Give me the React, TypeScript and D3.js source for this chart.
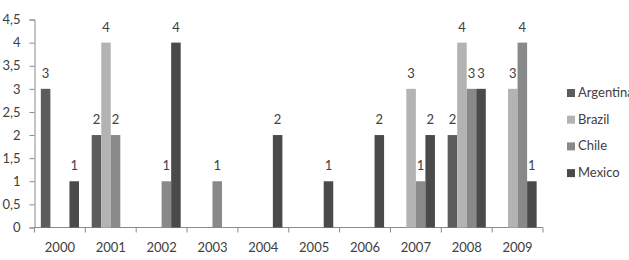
import * as d3 from "d3";
import { useEffect, useRef } from "react";

const years = ["2000", "2001", "2002", "2003", "2004", "2005", "2006", "2007", "2008", "2009"];
const countries = ["Argentina", "Brazil", "Chile", "Mexico"];
const argentina = [3, 2, 0, 0, 0, 0, 0, 0, 2, 0];
const brazil = [0, 4, 0, 0, 0, 0, 0, 3, 4, 3];
const chile = [0, 2, 1, 1, 0, 0, 0, 1, 3, 4];
const mexico = [1, 0, 4, 0, 2, 1, 2, 2, 3, 1];
const yTicks = [0, 0.5, 1, 1.5, 2, 2.5, 3, 3.5, 4, 4.5];
const colors = ["#5c5c5c", "#b3b3b3", "#898989", "#4a4a4a"];

function App() {
    const svgRef = useRef(null);

    useEffect(() => {
        const svg = d3.select(svgRef.current);
        svg.selectAll("*").remove();

        const font = "Lato, 'Open Sans', sans-serif";
        const series = [argentina, brazil, chile, mexico];

        const left = 34.5, right = 543, top = 19.5, bottom = 227.5;

        const xScale = d3.scaleBand().domain(years).range([left, right]).paddingInner(0.25).paddingOuter(0.125);
        const xInner = d3.scaleBand().domain(countries).range([0, xScale.bandwidth()]);
        const yScale = d3.scaleLinear().domain([0, 4.5]).range([bottom, top]);
        const step = xScale.step();

        // y axis
        const yAxis = d3.axisLeft(yScale)
            .tickValues(yTicks)
            .tickSize(5)
            .tickPadding(9)
            .tickFormat((d) => d3.format("~g")(d).replace(".", ","));
        const yg = svg.append("g").attr("transform", `translate(${left},0)`).call(yAxis);
        yg.select(".domain").attr("stroke", "#8a8a8a");
        yg.selectAll(".tick line").attr("stroke", "#8a8a8a");
        yg.selectAll(".tick text").attr("fill", "#404040").style("font-family", font).style("font-size", "13px");

        // x axis
        const xg = svg.append("g");
        xg.append("line")
            .attr("x1", left).attr("x2", right)
            .attr("y1", bottom).attr("y2", bottom)
            .attr("stroke", "#8a8a8a");
        xg.selectAll(".xtick")
            .data(d3.range(years.length + 1))
            .join("line")
            .attr("x1", (i) => left + i * step)
            .attr("x2", (i) => left + i * step)
            .attr("y1", bottom)
            .attr("y2", bottom + 5)
            .attr("stroke", "#8a8a8a");
        xg.selectAll(".xlabel")
            .data(years)
            .join("text")
            .attr("x", (d) => xScale(d) + xScale.bandwidth() / 2)
            .attr("y", 252)
            .attr("text-anchor", "middle")
            .attr("fill", "#404040")
            .style("font-family", font)
            .style("font-size", "13px")
            .text((d) => d);

        // bars + labels
        series.forEach((values, s) => {
            const g = svg.append("g");
            const pts = values.map((v, i) => ({ year: years[i], v }));
            g.selectAll("rect")
                .data(pts.filter((p) => p.v > 0))
                .join("rect")
                .attr("x", (p) => xScale(p.year) + xInner(countries[s]))
                .attr("y", (p) => yScale(p.v))
                .attr("width", xInner.bandwidth())
                .attr("height", (p) => bottom - yScale(p.v))
                .attr("fill", colors[s]);
            g.selectAll("text")
                .data(pts.filter((p) => p.v > 0))
                .join("text")
                .attr("x", (p) => xScale(p.year) + xInner(countries[s]) + xInner.bandwidth() / 2)
                .attr("y", (p) => yScale(p.v) - 11)
                .attr("text-anchor", "middle")
                .attr("fill", "#404040")
                .style("font-family", font)
                .style("font-size", "13px")
                .text((p) => p.v);
        });

        // legend
        const legend = svg.append("g");
        countries.forEach((c, i) => {
            const y = 97 + i * 26.7;
            legend.append("rect")
                .attr("x", 567).attr("y", y - 8)
                .attr("width", 8).attr("height", 8)
                .attr("fill", colors[i]);
            legend.append("text")
                .attr("x", 578).attr("y", y)
                .attr("fill", "#404040")
                .style("font-family", font)
                .style("font-size", "13px")
                .text(c);
        });
    }, []);

    return (
        <svg ref={svgRef} width={629} height={260}
            style={{ position: "absolute", left: 0, top: 0, background: "#fff" }}>
        </svg>
    );
}

export default App;
